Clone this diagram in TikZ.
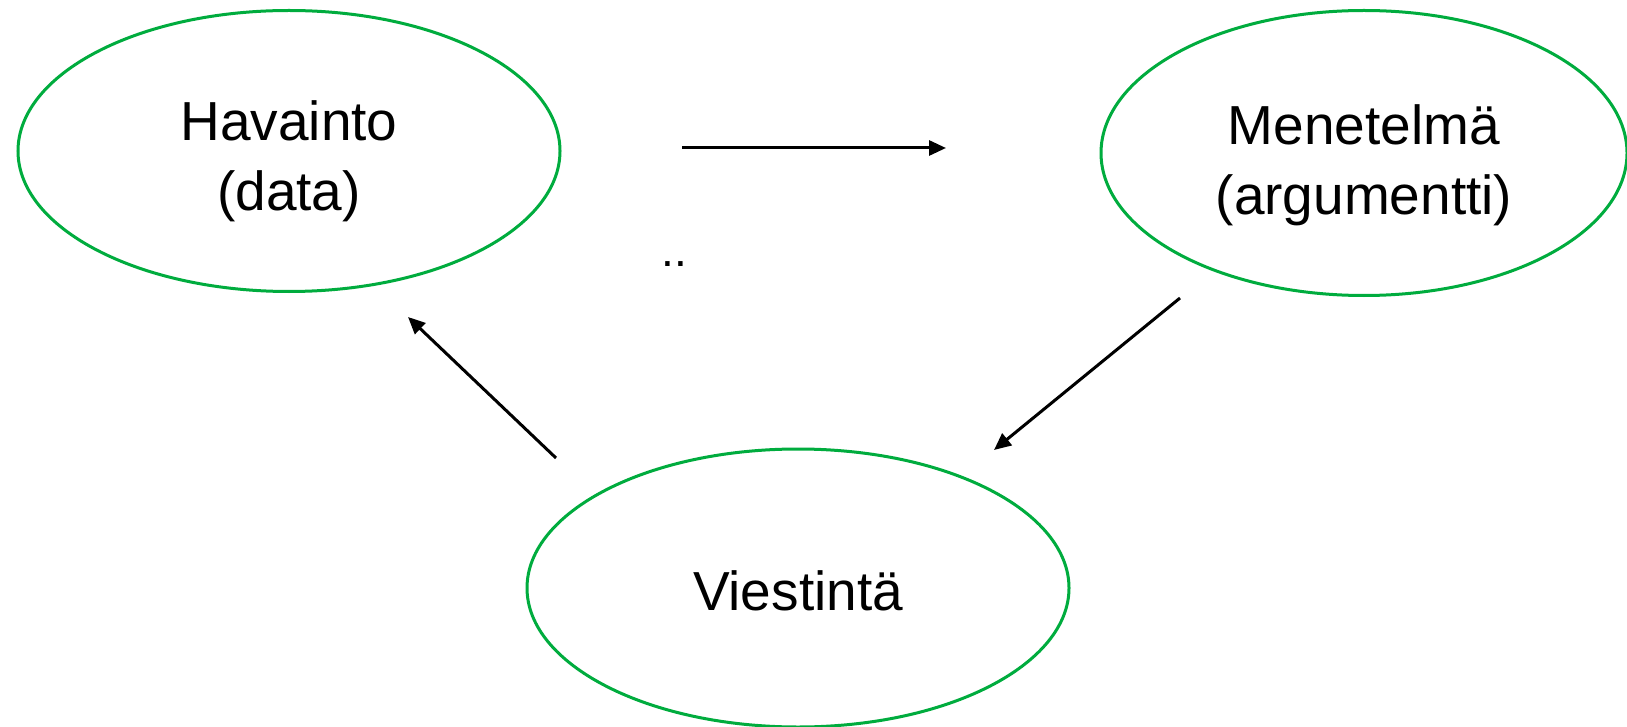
\documentclass[tikz,border=0pt]{standalone}
\usepackage{fontspec}
\setmainfont{Liberation Sans}
\usetikzlibrary{shapes.geometric,arrows.meta}
\definecolor{ringgreen}{RGB}{0,172,62}
\begin{document}
\begin{tikzpicture}[x=1pt,y=-1pt,
  phase/.style={ellipse, draw=ringgreen, line width=3pt, inner sep=0pt},
  phasetext/.style={align=center, inner sep=0pt, font=\fontsize{55}{70}\selectfont},
  flow/.style={line width=3pt, -{Triangle[length=17pt,width=15pt]}}]
  \useasboundingbox (0,0) rectangle (1627,727);
  \fill[white] (0,0) rectangle (1627,727);

  % the three stages of the cycle, text set a little below each centre
  \node[phase, minimum width=542pt, minimum height=281pt,
    label={[phasetext, yshift=-10.5pt]center:{Havainto\\(data)}}] (havainto) at (289,151) {};
  \node[phase, minimum width=526pt, minimum height=285pt,
    label={[phasetext, yshift=-12pt]center:{Menetelmä\\(argumentti)}}] (menetelma) at (1364,153) {};
  \node[phase, minimum width=542pt, minimum height=278pt,
    label={[phasetext, yshift=-3pt]center:{Viestintä}}] (viestinta) at (798,588) {};

  % arrow end points
  \coordinate (a1) at (682,148);
  \coordinate (b1) at (946,148);
  \coordinate (a2) at (1180,298);
  \coordinate (b2) at (994,450);
  \coordinate (a3) at (556,458);
  \coordinate (b3) at (408,317);

  \draw[flow] (a1) -- (b1);
  \draw[flow] (a2) -- (b2);
  \draw[flow] (a3) -- (b3);

  \node[font=\fontsize{46}{50}\selectfont] (dots) at (674,264) {..};
\end{tikzpicture}
\end{document}
